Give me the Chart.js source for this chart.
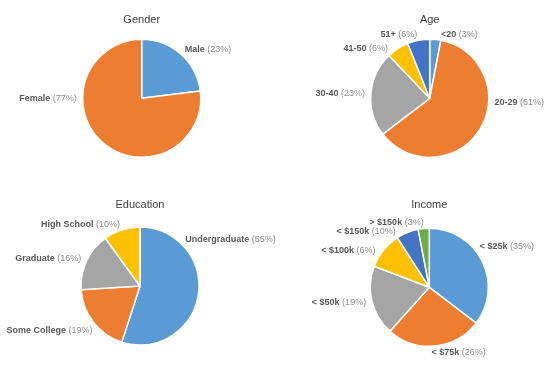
<!DOCTYPE html>
<html>
<head>
<meta charset="utf-8">
<script src="https://cdn.jsdelivr.net/npm/chart.js@4.4.1/dist/chart.umd.min.js"></script>
<style>
  html, body { margin: 0; padding: 0; background: #fff; }
  #wrap { position: relative; width: 554px; height: 369px; }
  .cell { position: absolute; }
</style>
</head>
<body>
<div id="wrap">
  <div class="cell" style="left:0;top:0;width:277px;height:185px"><canvas id="gender"></canvas></div>
  <div class="cell" style="left:277px;top:0;width:277px;height:185px"><canvas id="age"></canvas></div>
  <div class="cell" style="left:0;top:185px;width:277px;height:184px"><canvas id="education"></canvas></div>
  <div class="cell" style="left:277px;top:185px;width:277px;height:184px"><canvas id="income"></canvas></div>
</div>
<script>
// data (percent)
const genderLabels = ['Male', 'Female'];
const genderValues = [23, 77];

const ageLabels = ['<20', '20-29', '30-40', '41-50', '51+'];
const ageValues = [3, 61, 23, 6, 6];

const educationLabels = ['Undergraduate', 'Some College', 'Graduate', 'High School'];
const educationValues = [55, 19, 16, 10];

// slice sizes as drawn; the printed percents swap the 6 / 10 pair
const incomeLabels = ['< $25k', '< $75k', '< $50k', '< $100k', '< $150k', '> $150k'];
const incomeValues = [35, 26, 19, 10, 6, 3];
const incomeShown = [35, 26, 19, 6, 10, 3];

const COLORS = ['#5B9BD5', '#ED7D31', '#A5A5A5', '#FFC000', '#4472C4', '#70AD47'];
const FONT = '"Liberation Sans", Arial, sans-serif';

// titles and outside labels
const pieLabels = {
  id: 'pieLabels',
  afterDraw(chart, args, opts) {
    const ctx = chart.ctx;
    const arcs = chart.getDatasetMeta(0).data;
    ctx.save();
    ctx.textBaseline = 'middle';
    ctx.font = '11px ' + FONT;
    ctx.fillStyle = '#404040';
    ctx.textAlign = 'center';
    ctx.fillText(opts.title, arcs[0].x, 20);

    ctx.textAlign = 'left';
    arcs.forEach((arc, i) => {
      let a = (arc.startAngle + arc.endAngle) / 2;
      if (opts.at && opts.at[i] != null) a = opts.at[i] * Math.PI / 180 - Math.PI / 2;
      const d = arc.outerRadius + 6;
      const x = arc.x + Math.cos(a) * d;
      const y = arc.y + Math.sin(a) * d;
      const name = chart.data.labels[i];
      const pct = ' (' + opts.pct[i] + '%)';
      ctx.font = 'bold 9px ' + FONT;
      const w1 = ctx.measureText(name).width;
      ctx.font = '9px ' + FONT;
      const w2 = ctx.measureText(pct).width;
      const left = Math.cos(a) >= 0 ? x : x - w1 - w2;
      ctx.font = 'bold 9px ' + FONT;
      ctx.fillStyle = '#595959';
      ctx.fillText(name, left, y);
      ctx.font = '9px ' + FONT;
      ctx.fillStyle = '#8c8c8c';
      ctx.fillText(pct, left + w1, y);
    });
    ctx.restore();
  }
};

function makePie(id, labels, values, shown, title, cx, cy, at) {
  const el = document.getElementById(id);
  const W = el.parentNode.clientWidth, H = el.parentNode.clientHeight;
  const R = 59;
  return new Chart(el, {
    type: 'pie',
    data: {
      labels: labels,
      datasets: [{
        data: values,
        backgroundColor: COLORS.slice(0, values.length),
        borderColor: '#fff',
        borderWidth: 1.5,
        radius: R
      }]
    },
    options: {
      responsive: true,
      maintainAspectRatio: false,
      animation: false,
      events: [],
      layout: {
        padding: { left: cx - R - 1, right: W - cx - R - 1, top: cy - R - 1, bottom: H - cy - R - 1 }
      },
      plugins: {
        legend: { display: false },
        tooltip: { enabled: false },
        pieLabels: { title: title, pct: shown, at: at }
      }
    },
    plugins: [pieLabels]
  });
}

// label angle overrides (degrees clockwise from top) where the label is not on the slice middle
makePie('gender', genderLabels, genderValues, genderValues, 'Gender', 141.7, 98.3, [null, 270]);
makePie('age', ageLabels, ageValues, ageValues, 'Age', 152.7, 98.3, [10, 94, null, 320, 349]);
makePie('education', educationLabels, educationValues, educationValues, 'Education', 140, 101, [44, 227, null, null]);
makePie('income', incomeLabels, incomeValues, incomeShown, 'Income', 152.3, 102.3, [51, 178, null, 304, 329, 355]);
</script>
</body>
</html>
